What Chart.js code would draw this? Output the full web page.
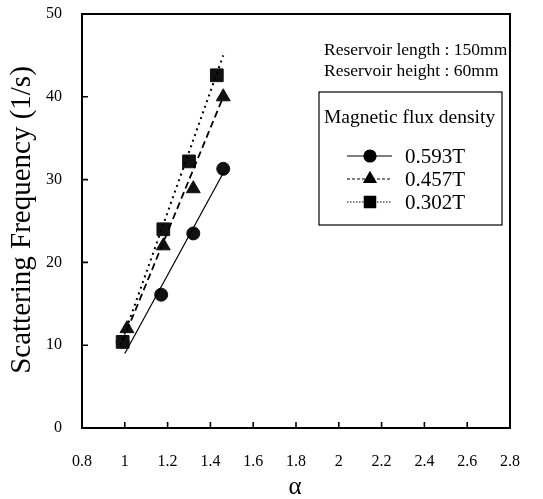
<!DOCTYPE html>
<html>
<head>
<meta charset="utf-8">
<script src="https://cdn.jsdelivr.net/npm/chart.js@4"></script>
<style>
  html, body { margin: 0; padding: 0; background: #fff; }
  #wrap { width: 543px; height: 499px; }
</style>
</head>
<body>
<div id="wrap"><canvas id="chart" width="543" height="499"></canvas></div>
<script>
const circleX = [0.99, 1.17, 1.32, 1.46];
const circleY = [10.4, 16.1, 23.5, 31.3];
const triX = [1.01, 1.18, 1.32, 1.46];
const triY = [12.0, 22.0, 28.9, 40.0];
const squareX = [0.99, 1.18, 1.30, 1.43];
const squareY = [10.4, 24.0, 32.2, 42.6];

// fitted lines (end points)
const fitCircleX = [1.0, 1.46];
const fitCircleY = [9.0, 30.8];
const fitTriX = [0.99, 1.46];
const fitTriY = [10.5, 40.0];
const fitSquareX = [0.98, 1.46];
const fitSquareY = [10.0, 45.0];

const xTicks = [0.8, 1, 1.2, 1.4, 1.6, 1.8, 2, 2.2, 2.4, 2.6, 2.8];
const yTicks = [0, 10, 20, 30, 40, 50];

const seriesNames = ['0.593T', '0.457T', '0.302T'];
const legendTitle = 'Magnetic flux density';
const noteLines = ['Reservoir length : 150mm', 'Reservoir height : 60mm'];
const xTitle = 'α';
const yTitle = 'Scattering Frequency (1/s)';

const SERIF = '"Liberation Serif", "DejaVu Serif", serif';
const pts = (xs, ys) => xs.map((x, i) => ({ x, y: ys[i] }));

function markerSet(label, xs, ys, style, r) {
  return {
    label, data: pts(xs, ys), showLine: false,
    pointStyle: style, pointRadius: r, pointHoverRadius: r,
    pointBackgroundColor: '#111', pointBorderColor: '#111', borderColor: '#111'
  };
}
function fitSet(xs, ys, dash, w) {
  return {
    label: 'fit', data: pts(xs, ys), showLine: true, pointRadius: 0,
    borderColor: '#000', borderWidth: w, borderDash: dash
  };
}

const frame = {
  id: 'frame',
  afterDraw(chart) {
    const { ctx, chartArea: a, scales: { x, y } } = chart;
    ctx.save();
    ctx.strokeStyle = '#000';
    ctx.lineWidth = 2;
    ctx.strokeRect(a.left, a.top, a.right - a.left, a.bottom - a.top);
    // inward ticks
    ctx.lineWidth = 1.6;
    ctx.beginPath();
    xTicks.forEach(v => {
      const px = x.getPixelForValue(v);
      ctx.moveTo(px, a.bottom); ctx.lineTo(px, a.bottom - 6);
    });
    yTicks.forEach(v => {
      const py = y.getPixelForValue(v);
      ctx.moveTo(a.left, py); ctx.lineTo(a.left + 6, py);
    });
    ctx.stroke();

    ctx.fillStyle = '#000';
    // axis titles
    ctx.font = '25px ' + SERIF;
    ctx.textAlign = 'center';
    ctx.textBaseline = 'middle';
    ctx.fillText(xTitle, 295, 487);
    ctx.save();
    ctx.translate(22, 220);
    ctx.rotate(-Math.PI / 2);
    ctx.font = '29px ' + SERIF;
    ctx.fillText(yTitle, 0, 0);
    ctx.restore();

    // notes
    ctx.textAlign = 'left';
    ctx.textBaseline = 'alphabetic';
    ctx.font = '17.5px ' + SERIF;
    ctx.fillText(noteLines[0], 324, 55);
    ctx.fillText(noteLines[1], 324, 76);

    // legend box
    ctx.lineWidth = 1.2;
    ctx.strokeRect(319, 92, 183, 133);
    ctx.font = '19.5px ' + SERIF;
    ctx.fillText(legendTitle, 324, 123);
    const rowY = [156, 179, 202];
    const dashes = [[], [3, 2], [1.5, 1.5]];
    const styles = ['circle', 'triangle', 'rect'];
    const radii = [6, 7, 8];
    rowY.forEach((ry, i) => {
      ctx.save();
      ctx.lineWidth = 1;
      ctx.setLineDash(dashes[i]);
      ctx.beginPath();
      ctx.moveTo(347, ry); ctx.lineTo(392, ry);
      ctx.stroke();
      ctx.restore();
      Chart.helpers.drawPoint(ctx, { pointStyle: styles[i], radius: radii[i], borderWidth: 1 }, 370, ry);
      ctx.fill();
      ctx.font = '21px ' + SERIF;
      ctx.textBaseline = 'middle';
      ctx.fillText(seriesNames[i], 405, ry + 1);
    });
    ctx.restore();
  }
};

new Chart(document.getElementById('chart'), {
  type: 'scatter',
  data: {
    datasets: [
      fitSet(fitCircleX, fitCircleY, [], 1.2),
      fitSet(fitTriX, fitTriY, [7, 4], 1.8),
      fitSet(fitSquareX, fitSquareY, [2, 4], 2),
      markerSet(seriesNames[0], circleX, circleY, 'circle', 6.5),
      markerSet(seriesNames[1], triX, triY, 'triangle', 8),
      markerSet(seriesNames[2], squareX, squareY, 'rect', 9)
    ]
  },
  options: {
    responsive: false,
    animation: false,
    layout: { padding: { left: 0, top: 14, right: 33, bottom: 0 } },
    plugins: { legend: { display: false }, tooltip: { enabled: false } },
    scales: {
      x: {
        type: 'linear', min: 0.8, max: 2.8,
        afterBuildTicks: s => { s.ticks = xTicks.map(v => ({ value: v })); },
        afterFit: s => { s.height = 71; s.paddingLeft = 0; s.paddingRight = 0; },
        grid: { display: false },
        border: { display: false },
        ticks: {
          padding: 16, color: '#000', font: { family: SERIF, size: 16 }, maxRotation: 0, autoSkip: false,
          callback: v => String(+(+v).toFixed(1))
        }
      },
      y: {
        type: 'linear', min: 0, max: 50,
        afterBuildTicks: s => { s.ticks = yTicks.map(v => ({ value: v })); },
        afterFit: s => { s.width = 82; s.paddingTop = 0; s.paddingBottom = 0; },
        grid: { display: false },
        border: { display: false },
        ticks: { padding: 12, color: '#000', font: { family: SERIF, size: 16 } }
      }
    }
  },
  plugins: [frame]
});
</script>
</body>
</html>
